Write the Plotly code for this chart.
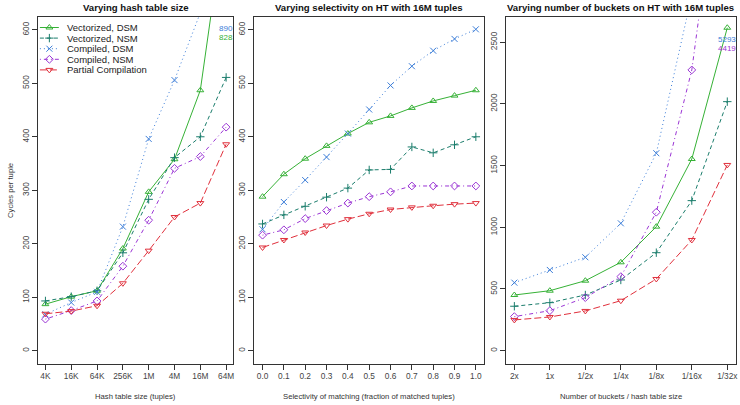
import plotly.graph_objects as go

# ---------------- data ----------------
series_names = ["Vectorized, DSM", "Vectorized, NSM", "Compiled, DSM", "Compiled, NSM", "Partial Compilation"]

ht_sizes = ["4K", "16K", "64K", "256K", "1M", "4M", "16M", "64M"]
p1_vec_dsm = [87, 101, 112, 191, 297, 358, 487, 828]
p1_vec_nsm = [93, 101, 112, 183, 283, 361, 400, 511]
p1_comp_dsm = [68, 90, 110, 232, 396, 506, 632, 890]
p1_comp_nsm = [59, 75, 93, 158, 244, 341, 363, 418]
p1_partial = [69, 74, 84, 126, 187, 250, 276, 386]

selectivity = [0.0, 0.1, 0.2, 0.3, 0.4, 0.5, 0.6, 0.7, 0.8, 0.9, 1.0]
sel_labels = ["0.0", "0.1", "0.2", "0.3", "0.4", "0.5", "0.6", "0.7", "0.8", "0.9", "1.0"]
p2_vec_dsm = [288, 330, 359, 383, 406, 427, 439, 454, 467, 477, 487]
p2_vec_nsm = [237, 254, 270, 287, 304, 338, 339, 381, 370, 385, 400]
p2_comp_dsm = [227, 278, 319, 362, 406, 451, 496, 532, 561, 583, 601]
p2_comp_nsm = [216, 226, 247, 262, 276, 288, 297, 308, 308, 308, 308]
p2_partial = [193, 207, 221, 234, 246, 256, 264, 268, 271, 274, 276]

buckets = ["2x", "1x", "1/2x", "1/4x", "1/8x", "1/16x", "1/32x"]
p3_vec_dsm = [451, 486, 567, 716, 1005, 1553, 2617]
p3_vec_nsm = [360, 389, 451, 573, 794, 1216, 2018]
p3_comp_dsm = [551, 654, 757, 1032, 1600, 2880, 5293]
p3_comp_nsm = [276, 324, 430, 600, 1122, 2275, 4419]
p3_partial = [249, 273, 322, 405, 581, 897, 1505]

titles = ["Varying hash table size", "Varying selectivity on HT with 16M tuples",
          "Varying number of buckets on HT with 16M tuples"]
xtitles = ["Hash table size (tuples)", "Selectivity of matching (fraction of matched tuples)",
           "Number of buckets / hash table size"]
ytitle = "Cycles per tuple"

# ---------------- styles ----------------
colors = ["#36b136", "#1b7d6c", "#3b7dd8", "#9a34d4", "#e0303c"]
dashes = ["solid", "4px,3px", "1px,3px", "1px,3px,4px,3px", "7px,3px"]
symbols = ["triangle-up-open", "cross-thin-open", "x-thin-open", "diamond-open", "triangle-down-open"]
FONT = "Liberation Sans, Arial, sans-serif"
W, H = 740, 405

fig = go.Figure()

panels = [
    (list(range(len(ht_sizes))), [p1_vec_dsm, p1_vec_nsm, p1_comp_dsm, p1_comp_nsm, p1_partial], "x", "y"),
    (selectivity, [p2_vec_dsm, p2_vec_nsm, p2_comp_dsm, p2_comp_nsm, p2_partial], "x2", "y2"),
    (list(range(len(buckets))), [p3_vec_dsm, p3_vec_nsm, p3_comp_dsm, p3_comp_nsm, p3_partial], "x3", "y3"),
]

for xs, ser, xa, ya in panels:
    for i, ys in enumerate(ser):
        fig.add_trace(go.Scatter(
            x=xs, y=ys, xaxis=xa, yaxis=ya, mode="lines+markers",
            name=series_names[i], showlegend=False,
            line=dict(color=colors[i], width=1, dash=dashes[i]),
            marker=dict(symbol=symbols[i], size=6, color=colors[i],
                        line=dict(color=colors[i], width=1)),
        ))

# pixel-box helpers
def xd(px):
    return px / W

def yd(py):
    return (H - py) / H

boxes = [(38.3, 234.0), (254.7, 485.7), (507.2, 737.8)]
ytop, ybot = 17.0, 363.5

axis_common = dict(showline=True, mirror=True, linecolor="#333", linewidth=1,
                   ticks="outside", ticklen=5, tickcolor="#333", tickwidth=1,
                   showgrid=False, zeroline=False, ticklabeloverflow="allow",
                   tickfont=dict(family=FONT, size=8.3, color="#444"))

fig.update_layout(
    xaxis=dict(domain=[xd(boxes[0][0]), xd(boxes[0][1])], range=[-0.28, 7.28],
               tickvals=list(range(len(ht_sizes))), ticktext=ht_sizes, anchor="y", **axis_common),
    yaxis=dict(domain=[yd(ybot), yd(ytop)], range=[-24, 624], tickvals=list(range(0, 601, 100)),
               tickangle=-90, anchor="x", **axis_common),
    xaxis2=dict(domain=[xd(boxes[1][0]), xd(boxes[1][1])], range=[-0.04, 1.04],
                tickvals=selectivity, ticktext=sel_labels, anchor="y2", **axis_common),
    yaxis2=dict(domain=[yd(ybot), yd(ytop)], range=[-24, 624], tickvals=list(range(0, 601, 100)),
                tickangle=-90, anchor="x2", **axis_common),
    xaxis3=dict(domain=[xd(boxes[2][0]), xd(boxes[2][1])], range=[-0.24, 6.24],
                tickvals=list(range(len(buckets))), ticktext=buckets, anchor="y3", **axis_common),
    yaxis3=dict(domain=[yd(ybot), yd(ytop)], range=[-104, 2704], tickvals=list(range(0, 2501, 500)),
                tickangle=-90, anchor="x3", **axis_common),
    # overlay axes (pixel space) for the legend glyphs
    xaxis4=dict(domain=[0, 1], range=[0, W], visible=False, fixedrange=True, anchor="y4"),
    yaxis4=dict(domain=[0, 1], range=[H, 0], visible=False, fixedrange=True, anchor="x4"),
    width=W, height=H, margin=dict(l=0, r=0, t=0, b=0),
    paper_bgcolor="white", plot_bgcolor="rgba(0,0,0,0)", showlegend=False,
    font=dict(family=FONT, color="#222"),
)

annotations = []
for k, (x0, x1) in enumerate(boxes):
    cx = xd((x0 + x1) / 2)
    annotations.append(dict(text="<b>" + titles[k] + "</b>", x=cx, y=yd(7.5), xref="paper", yref="paper",
                            showarrow=False, xanchor="center", yanchor="middle",
                            font=dict(family=FONT, size=9.6, color="#111")))
    annotations.append(dict(text=xtitles[k], x=cx, y=yd(396), xref="paper", yref="paper",
                            showarrow=False, xanchor="center", yanchor="middle",
                            font=dict(family=FONT, size=7.7, color="#333")))
annotations.append(dict(text=ytitle, x=xd(10), y=yd(190), xref="paper", yref="paper", textangle=-90,
                        showarrow=False, xanchor="center", yanchor="middle",
                        font=dict(family=FONT, size=7.7, color="#333")))

# off-chart value labels
lab_font = 8
annotations.append(dict(text=str(p1_comp_dsm[-1]), x=len(ht_sizes) - 1, y=602, xref="x", yref="y",
                        showarrow=False, borderpad=0,
                        font=dict(family=FONT, size=lab_font, color=colors[2])))
annotations.append(dict(text=str(p1_vec_dsm[-1]), x=len(ht_sizes) - 1, y=586, xref="x", yref="y",
                        showarrow=False, borderpad=0,
                        font=dict(family=FONT, size=lab_font, color=colors[0])))
annotations.append(dict(text=str(p3_comp_dsm[-1]), x=len(buckets) - 1, y=2518, xref="x3", yref="y3",
                        showarrow=False, borderpad=0,
                        font=dict(family=FONT, size=lab_font, color=colors[2])))
annotations.append(dict(text=str(p3_comp_nsm[-1]), x=len(buckets) - 1, y=2452, xref="x3", yref="y3",
                        showarrow=False, borderpad=0,
                        font=dict(family=FONT, size=lab_font, color=colors[3])))

# legend (manual, R style)
leg_y0, leg_dy = 27.5, 10.6
for i, name in enumerate(series_names):
    yy = leg_y0 + i * leg_dy
    fig.add_trace(go.Scatter(x=[40, 59], y=[yy, yy], xaxis="x4", yaxis="y4", mode="lines",
                             line=dict(color=colors[i], width=1, dash=dashes[i]),
                             showlegend=False, hoverinfo="skip"))
    fig.add_trace(go.Scatter(x=[49.5], y=[yy], xaxis="x4", yaxis="y4", mode="markers",
                             marker=dict(symbol=symbols[i], size=6, color=colors[i],
                                         line=dict(color=colors[i], width=1)),
                             showlegend=False, hoverinfo="skip"))
    annotations.append(dict(text=name, x=xd(65), y=yd(yy), xref="paper", yref="paper",
                            showarrow=False, xanchor="left", yanchor="middle",
                            font=dict(family=FONT, size=9.5, color="#222")))

fig.update_layout(annotations=annotations)
fig.write_html("out.html")
